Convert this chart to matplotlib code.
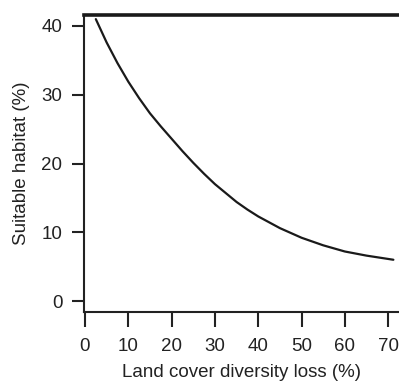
import matplotlib
matplotlib.use("Agg")
import matplotlib.pyplot as plt

plt.rcParams["font.family"] = ["Liberation Sans", "DejaVu Sans"]

# Suitable habitat remaining as land cover diversity is lost
diversity_loss = [2.5, 5, 7.5, 10, 12.5, 15, 17.5, 20, 22.5, 25, 27.5, 30, 32.5, 35,
                  37.5, 40, 45, 50, 55, 60, 65, 71.2]
habitat = [41.0, 37.6, 34.6, 31.9, 29.5, 27.3, 25.4, 23.6, 21.8, 20.1, 18.5, 17.0,
           15.7, 14.4, 13.3, 12.3, 10.6, 9.2, 8.1, 7.2, 6.6, 6.0]

xticks = [0, 10, 20, 30, 40, 50, 60, 70]
yticks = [0, 10, 20, 30, 40]

W, H = 399, 381
fig = plt.figure(figsize=(W / 100, H / 100), dpi=100)
ax = fig.add_axes([84 / W, (H - 312) / H, (W - 84) / W, (312 - 15) / H])

ax.plot(diversity_loss, habitat, color="#1a1a1a", lw=1.6,
        solid_capstyle="round", solid_joinstyle="round")

ax.set_xlim(-0.23, 72.5)
ax.set_ylim(-1.6, 41.6)
ax.set_xticks(xticks)
ax.set_yticks(yticks)

ax.spines["right"].set_visible(False)
ax.spines["top"].set_linewidth(2.6)
ax.spines["top"].set_color("#1a1a1a")
for s in ("left", "bottom"):
    ax.spines[s].set_linewidth(1.5)
    ax.spines[s].set_color("#222222")

fs = 13.5
ax.tick_params(axis="x", direction="out", length=10.5, width=1.5, pad=8,
               labelsize=fs, color="#222222", labelcolor="#222222")
ax.tick_params(axis="y", direction="out", length=8.5, width=1.5, pad=7,
               labelsize=fs, color="#222222", labelcolor="#222222")

ax.set_xlabel("Land cover diversity loss (%)", fontsize=fs, color="#222222", labelpad=7)
ax.set_ylabel("Suitable habitat (%)", fontsize=fs, color="#222222", labelpad=8)

fig.savefig("out.png", dpi=100)
